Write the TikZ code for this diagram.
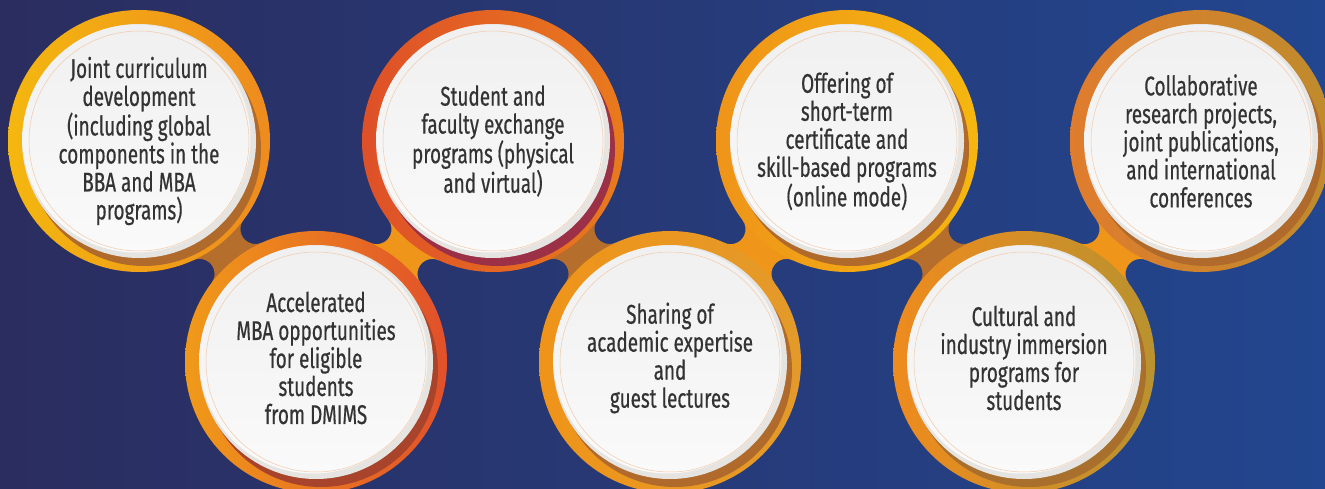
\documentclass[tikz,border=0pt]{standalone}
\usepackage{fontspec}
\setmainfont{Fira Sans}[FakeStretch=0.70, FakeBold=0.5]
\usetikzlibrary{calc}

\definecolor{bgleft}{HTML}{2B2D5F}
\definecolor{bgright}{HTML}{22468F}
\definecolor{neckup}{HTML}{EF951A}
\definecolor{neckdown}{HTML}{B56E2B}
\definecolor{discgrey}{HTML}{E6E4E1}
\definecolor{facetop}{HTML}{F0F0F0}
\definecolor{rimpeach}{HTML}{F2C9A8}
\definecolor{textgrey}{HTML}{333333}
%% ring colours
\definecolor{gold}{HTML}{F4B70F}
\definecolor{orange}{HTML}{EE8B1E}
\definecolor{amber}{HTML}{F09A19}
\definecolor{vermil}{HTML}{E1502A}
\definecolor{redor}{HTML}{DE5028}
\definecolor{tangerine}{HTML}{E97A1D}
\definecolor{saffron}{HTML}{EF9419}
\definecolor{ochre}{HTML}{E39A2A}
\definecolor{olive}{HTML}{B9922F}
\definecolor{rust}{HTML}{DF7C2D}
\definecolor{bronze}{HTML}{BF8B2D}
%% shadow colours
\definecolor{brown}{HTML}{B06A2B}
\definecolor{redbrown}{HTML}{A8442B}
\definecolor{crimson}{HTML}{9B3046}
\definecolor{khaki}{HTML}{A8702C}

\tikzset{
  disc/.style={fill=discgrey},
  face/.style={top color=facetop, bottom color=white!98!black},
  rimline/.style={draw=rimpeach, line width=0.5pt},
  txt/.style={font=\fontsize{27}{28}\selectfont, text=textgrey, align=center},
}

\newcommand{\neckband}[3]{%
  \begin{scope}[shift={(#1)}, rotate=#2]
    \fill[#3] (0,0) -- (14.2:131) arc[start angle=194.2, end angle=345.8, radius=15]
      -- (283.1,0) -- ++(194.2:131) arc[start angle=14.2, end angle=165.8, radius=15] -- cycle;
  \end{scope}}

\begin{document}
\begin{tikzpicture}[x=1pt,y=1pt]

%% background
\useasboundingbox (0,0) rectangle (1325,488);
\shade[left color=bgleft, right color=bgright] (0,0) rectangle (1325,488);

%% centres
\coordinate (p1) at (139,347);
\coordinate (p2) at (316,126);
\coordinate (p3) at (493,347);
\coordinate (p4) at (670,126);
\coordinate (p5) at (847,347);
\coordinate (p6) at (1024,126);
\coordinate (p7) at (1201,347);

%% necks
\neckband{p1}{-51.3}{neckdown}
\neckband{p2}{51.3}{neckup}
\neckband{p3}{-51.3}{neckdown}
\neckband{p4}{51.3}{neckup}
\neckband{p5}{-51.3}{neckdown}
\neckband{p6}{51.3}{neckup}

%% rings
\shade[left color=gold, right color=orange] (p1) circle (131);
\shade[left color=amber, right color=vermil] (p2) circle (131);
\shade[left color=redor, right color=tangerine] (p3) circle (131);
\shade[left color=saffron, right color=ochre] (p4) circle (131);
\shade[left color=saffron, right color=gold] (p5) circle (131);
\shade[left color=orange, right color=olive] (p6) circle (131);
\shade[left color=rust, middle color=saffron, right color=bronze] (p7) circle (131);

%% shadows
\fill[brown] ($(p1)+(5,-8)$) circle (117);
\fill[redbrown] ($(p2)+(5,-8)$) circle (117);
\fill[crimson] ($(p3)+(5,-8)$) circle (117);
\fill[brown] ($(p4)+(5,-8)$) circle (117);
\fill[brown] ($(p5)+(5,-8)$) circle (117);
\fill[khaki] ($(p6)+(5,-8)$) circle (117);
\fill[brown] ($(p7)+(5,-8)$) circle (117);

%% discs
\fill[disc] (p1) circle (117);
\fill[disc] (p2) circle (117);
\fill[disc] (p3) circle (117);
\fill[disc] (p4) circle (117);
\fill[disc] (p5) circle (117);
\fill[disc] (p6) circle (117);
\fill[disc] (p7) circle (117);

\shade[face] ($(p1)+(-2.5,2.5)$) circle (114);
\shade[face] ($(p2)+(-2.5,2.5)$) circle (114);
\shade[face] ($(p3)+(-2.5,2.5)$) circle (114);
\shade[face] ($(p4)+(-2.5,2.5)$) circle (114);
\shade[face] ($(p5)+(-2.5,2.5)$) circle (114);
\shade[face] ($(p6)+(-2.5,2.5)$) circle (114);
\shade[face] ($(p7)+(-2.5,2.5)$) circle (114);

\draw[rimline] (p1) circle (110);
\draw[rimline] (p2) circle (110);
\draw[rimline] (p3) circle (110);
\draw[rimline] (p4) circle (110);
\draw[rimline] (p5) circle (110);
\draw[rimline] (p6) circle (110);
\draw[rimline] (p7) circle (110);

%% texts
\node[txt] (t1) at (p1) {Joint curriculum\\development\\(including global\\components in the\\BBA and MBA\\programs)};
\node[txt] (t2) at ($(p2)+(0,4)$) {Accelerated\\MBA opportunities\\for eligible\\students\\from DMIMS};
\node[txt] (t3) at (p3) {Student and\\faculty exchange\\programs (physical\\and virtual)};
\node[txt] (t4) at ($(p4)+(0,4)$) {Sharing of\\academic expertise\\and\\guest lectures};
\node[txt] (t5) at (p5) {Offering of\\short-term\\certificate and\\skill-based programs\\(online mode)};
\node[txt] (t6) at ($(p6)+(0,4)$) {Cultural and\\industry immersion\\programs for\\students};
\node[txt] (t7) at (p7) {Collaborative\\research projects,\\joint publications,\\and international\\conferences};

\end{tikzpicture}
\end{document}
